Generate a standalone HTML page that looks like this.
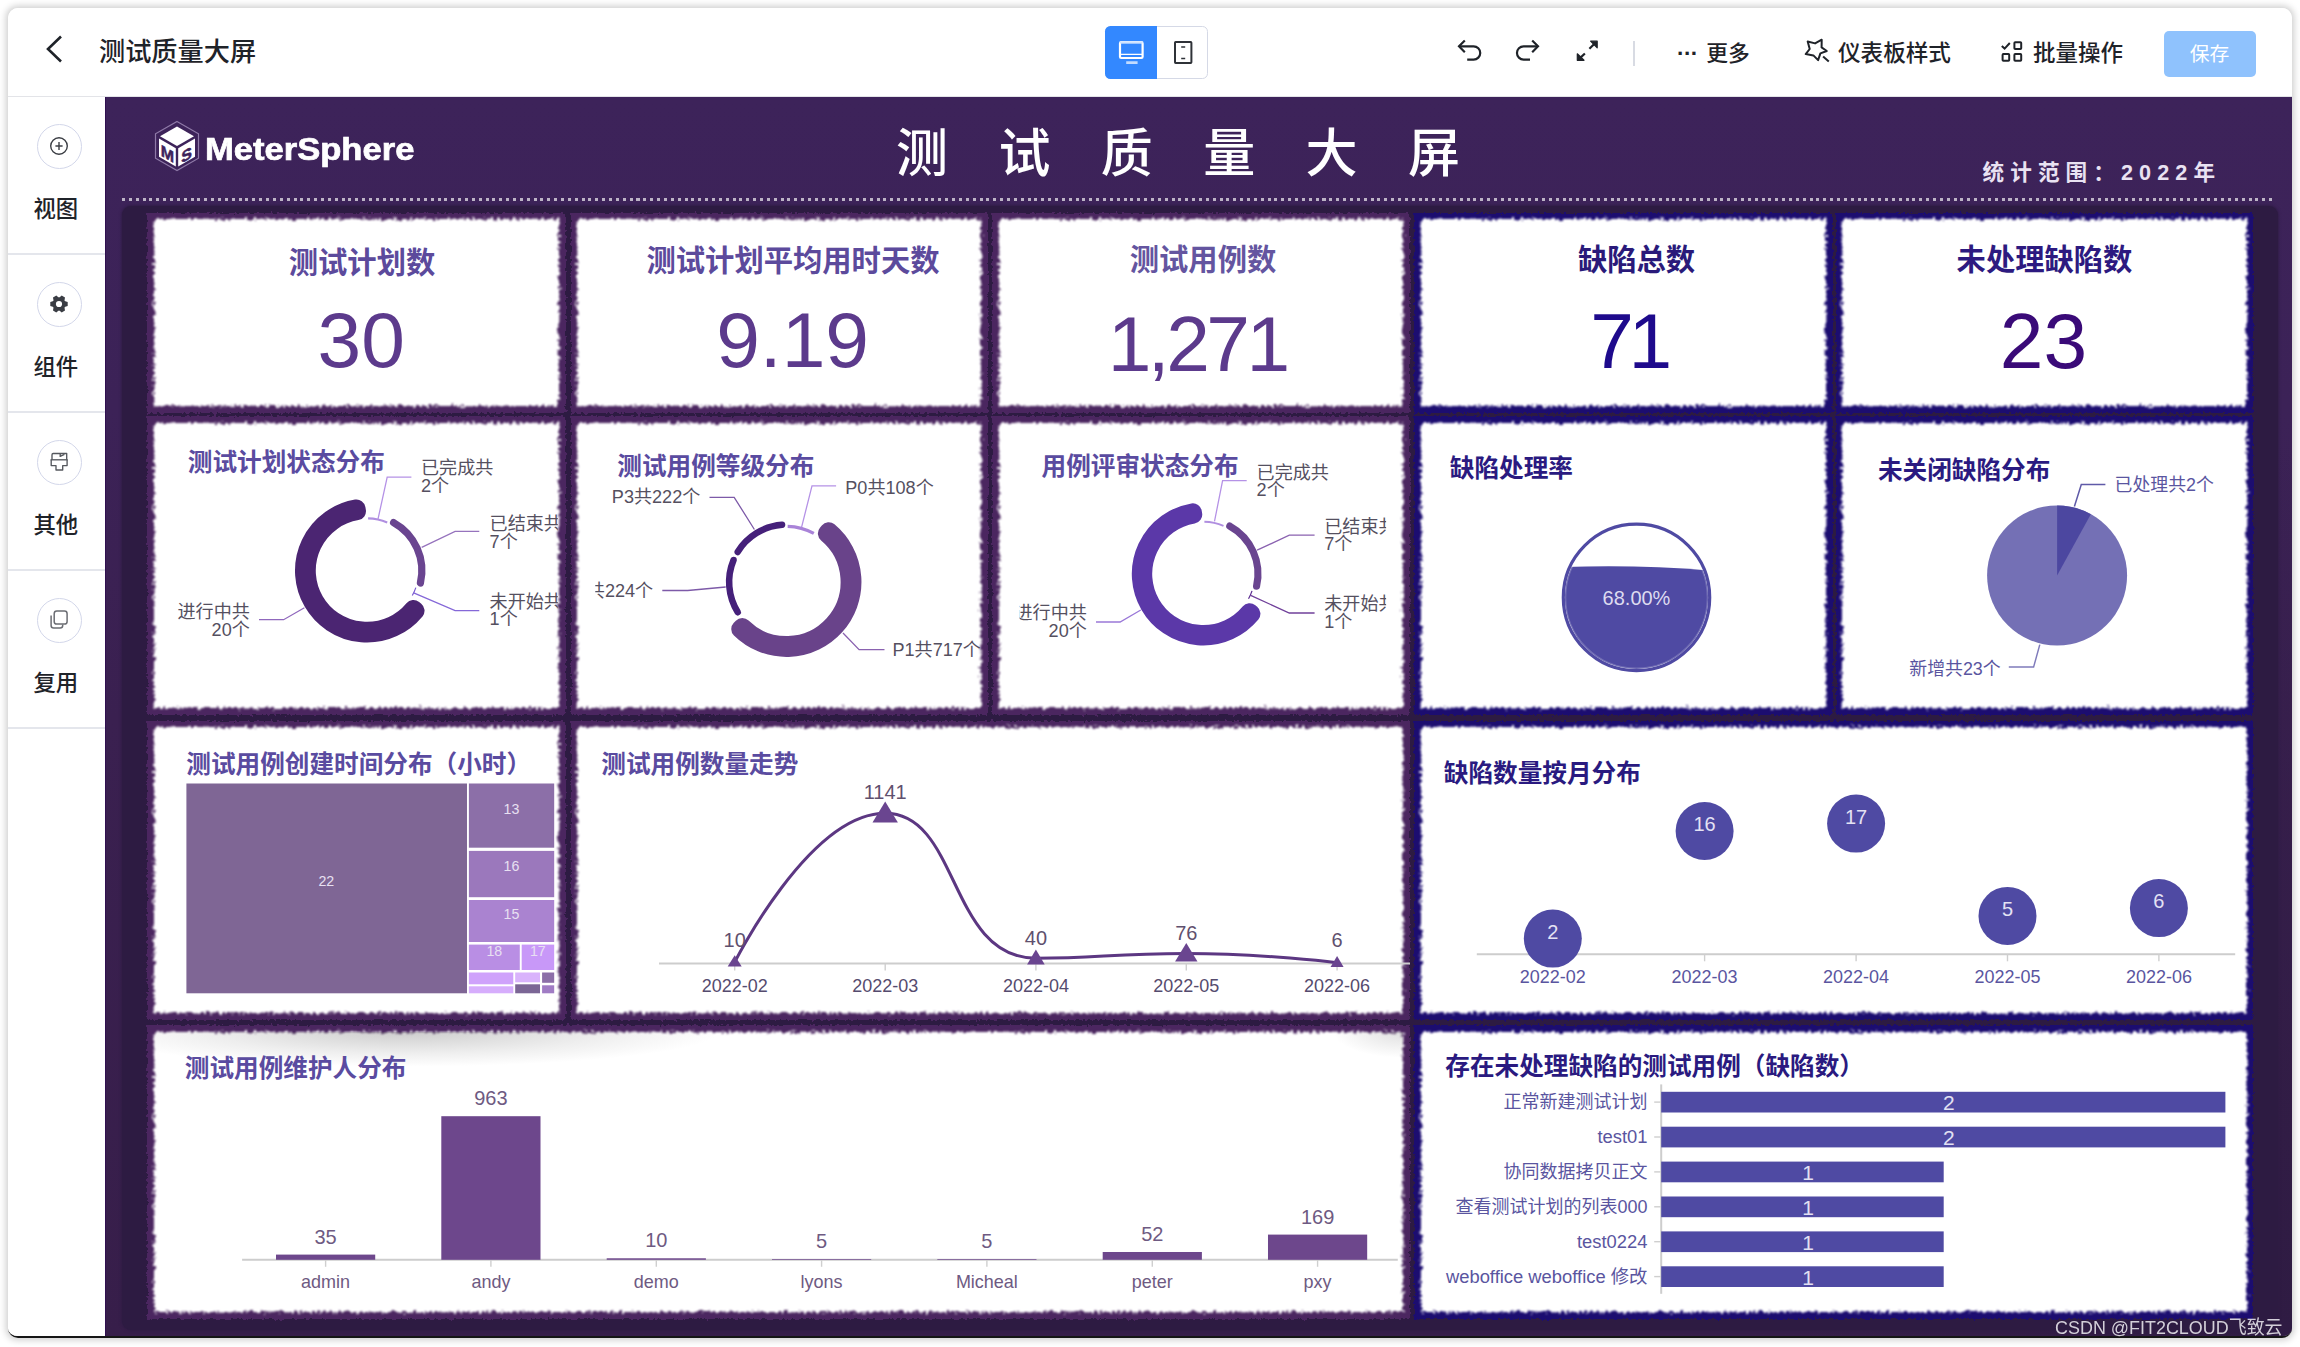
<!DOCTYPE html><html lang="zh-CN"><head><meta charset="utf-8"><title>测试质量大屏</title><style>
*{box-sizing:border-box;margin:0;padding:0}
html,body{width:2300px;height:1347px;overflow:hidden;background:#fff}
body{font-family:"Liberation Sans","Noto Sans CJK SC",sans-serif;position:relative;color:#1f2329}
.win{position:absolute;left:8px;top:8px;width:2284px;height:1330px;border-radius:10px;background:#fff;overflow:hidden;box-shadow:0 0 7px 1.5px rgba(0,0,0,.2);border-bottom:2px solid #161616}
.winline{position:absolute;left:14px;top:1336.5px;width:2272px;height:2px;background:#1d1d1d;border-radius:2px}
.abs{position:absolute}
.hdr{position:absolute;left:0;top:0;width:2284px;height:88.5px;border-bottom:1.5px solid #e3e4e8;background:#fff}
.side{position:absolute;left:0;top:89px;width:97px;height:1241px;background:#fff}
.side .circ{position:absolute;left:28.7px;width:45.2px;height:45.2px;border-radius:50%;border:1.3px solid #d3d7ea}
.side .lab{position:absolute;left:0;width:95.6px;text-align:center;font-size:22.4px;line-height:30px;color:#1f2329;font-weight:500}
.canvas{position:absolute;left:97px;top:89px;width:2187px;height:1241px;border-left:1.2px solid #300f50;background:radial-gradient(ellipse 500px 900px at 100% 100%,rgba(46,27,66,.9) 0,rgba(46,27,66,0) 100%),linear-gradient(180deg,#3d235a 0%,#3c2257 25%,#3a2050 50%,#371e4a 100%)}
.panel{position:absolute;left:122px;top:206px;width:2156px;height:1124px;border-radius:9px;background:#2d1b42;box-shadow:0 0 2.5px 1px rgba(46,27,68,.8)}
.dots{position:absolute;left:122px;top:197.8px;width:2154px;height:3.2px;background-image:repeating-linear-gradient(to right,rgba(255,255,255,.66) 0,rgba(255,255,255,.66) 3px,transparent 3px,transparent 6.86px)}
.card{position:absolute}
.frame{position:absolute;left:0;top:0;right:0;bottom:0;filter:url(#rough2)}
.paper{position:absolute;left:6.8px;top:6.8px;right:6.8px;bottom:6.8px;background:#fff;filter:url(#rough)}
.chart{position:absolute;left:0;top:0;overflow:hidden}
.ct{font-weight:700;font-family:"Liberation Sans","Noto Sans CJK SC",sans-serif}
.lb{font-family:"Liberation Sans","Noto Sans CJK SC",sans-serif}
.ax{font-family:"Liberation Sans",sans-serif}
.kt{position:absolute;text-align:center;font-weight:700;font-size:29.3px;line-height:40px;white-space:nowrap;transform:translateX(-50%)}
.kv{position:absolute;text-align:center;font-size:78.5px;line-height:80px;white-space:nowrap;transform:translateX(-50%);font-family:"Liberation Sans",sans-serif}
.innershadow{position:absolute;left:6.8px;top:6.8px;width:560px;height:34px;background:radial-gradient(ellipse at 45% 0,rgba(90,90,90,.3) 0,rgba(120,120,120,.12) 45%,rgba(255,255,255,0) 72%)}
.innershadow2{position:absolute;right:6.8px;top:6.8px;width:70px;height:26px;background:radial-gradient(ellipse at 100% 0,rgba(110,110,110,.22) 0,rgba(255,255,255,0) 70%)}
.wm{position:absolute;left:2055px;top:1313px;font-size:19.2px;transform-origin:0 50%;transform:scaleX(.935);line-height:30px;color:#d3cfd9;white-space:nowrap;font-family:"Liberation Sans","Noto Sans CJK SC",sans-serif}
</style></head><body>
<svg width="0" height="0" style="position:absolute"><defs><filter id="rough" x="-3%" y="-3%" width="106%" height="106%"><feTurbulence type="fractalNoise" baseFrequency="0.32" numOctaves="3" seed="7" result="n"/><feDisplacementMap in="SourceGraphic" in2="n" scale="8" xChannelSelector="R" yChannelSelector="G" result="d"/><feGaussianBlur in="d" stdDeviation="0.9"/></filter><filter id="rough2" x="-3%" y="-3%" width="106%" height="106%"><feTurbulence type="fractalNoise" baseFrequency="0.3" numOctaves="2" seed="11" result="n"/><feDisplacementMap in="SourceGraphic" in2="n" scale="5" xChannelSelector="R" yChannelSelector="G"/></filter></defs></svg>
<div class="win">
<div class="hdr"><svg class="abs" style="left:34px;top:25px" width="26" height="32" viewBox="0 0 26 32"><path d="M19 3.5L6 16L19 28.5" fill="none" stroke="#1f2329" stroke-width="2.6"/></svg><div class="abs" style="left:91px;top:25.5px;font-size:26.2px;line-height:36px;font-weight:500;color:#1f2329;white-space:nowrap">测试质量大屏</div><div class="abs" style="left:1096.8px;top:18.2px;width:103px;height:52.4px;border:1.3px solid #d5d9e6;border-radius:5.5px;background:#fff"></div><div class="abs" style="left:1096.8px;top:18.2px;width:52.4px;height:52.4px;border-radius:5.5px 0 0 5.5px;background:#3388ff"></div><svg class="abs" style="left:1109px;top:31px" width="28" height="26" viewBox="0 0 28 26"><rect x="3" y="3.2" width="22.6" height="15.8" rx="1.2" fill="none" stroke="#fff" stroke-width="2.2"/><path d="M3 3.4H25.6" stroke="#cfe3ff" stroke-width="2.4"/><path d="M3 15.4H25.6" stroke="#fff" stroke-width="1.4"/><path d="M9.2 23.7H20.6" stroke="#c2dbff" stroke-width="2.8"/></svg><svg class="abs" style="left:1164px;top:31px" width="22" height="26" viewBox="0 0 22 26"><rect x="3" y="3.1" width="16.4" height="20.8" rx=".6" fill="none" stroke="#2f3238" stroke-width="2"/><path d="M9.2 7.9H13.2M9.2 19.6H13.2" stroke="#2f3238" stroke-width="1.5"/></svg><svg class="abs" style="left:1432px;top:12px" width="180" height="64" viewBox="1440 20 180 64" fill="none" stroke="#1f2329" stroke-width="2.2"><path d="M1467.2 59.6H1473.6A6.65 6.65 0 0 0 1473.6 46.3H1459.8"/><path d="M1464.8 40.4L1459 46.3L1464.8 52.2"/><path d="M1530 59.6H1523.6A6.65 6.65 0 0 1 1523.6 46.3H1537.4"/><path d="M1532.2 40.4L1538 46.3L1532.2 52.2"/><path d="M1589.4 48.8L1595 43.3"/><path d="M1590.6 41.2H1597.2V47.8Z" fill="#1f2329" stroke-width="1.2" stroke-linejoin="round"/><path d="M1584.9 53.5L1579.4 58.6"/><path d="M1577.3 53.8V60.3H1584Z" fill="#1f2329" stroke-width="1.2" stroke-linejoin="round"/></svg><div class="abs" style="left:1625.3px;top:33px;width:1.4px;height:25px;background:#d8dbe3"></div><div class="abs" style="left:1669px;top:29.5px;font-size:22.5px;line-height:32px;font-weight:500;color:#1f2329;white-space:nowrap"><span style="letter-spacing:-.6px;font-weight:700">···</span><span style="margin-left:8.5px;font-size:21.8px">更多</span></div><svg class="abs" style="left:1792px;top:26px" width="34" height="32" viewBox="0 0 34 32" fill="none" stroke="#1f2329" stroke-width="2" stroke-linejoin="round"><path d="M7.7 7.5L15.1 9.4L21.7 5.7L21.6 13.4L26.8 17L20.4 19.4L18.1 26.1L13.4 21.4L5.7 20.1L9.7 15Z"/><path d="M23.1 22.4L28.8 27.4"/></svg><div class="abs" style="left:1830px;top:29.5px;font-size:22.6px;line-height:32px;font-weight:500;color:#1f2329;white-space:nowrap">仪表板样式</div><svg class="abs" style="left:1992px;top:31.7px" width="24" height="24" viewBox="0 0 24 24" fill="none" stroke="#1f2329" stroke-width="2"><rect x="14.4" y="2.2" width="6.8" height="6.8" rx=".8"/><rect x="2.6" y="14.1" width="6.6" height="6.6" rx=".8"/><rect x="14.4" y="14.1" width="6.8" height="6.6" rx=".8"/><path d="M1.8 6L4.6 8.6L9.8 3"/></svg><div class="abs" style="left:2025px;top:29.5px;font-size:22.5px;line-height:32px;font-weight:500;color:#1f2329;white-space:nowrap">批量操作</div><div class="abs" style="left:2155.5px;top:23px;width:92px;height:46px;border-radius:5px;background:#8fc2fd;color:#fff;font-size:19.8px;line-height:47px;text-align:center">保存</div></div>
<div class="side"><div class="circ" style="top:26.8px"></div><svg class="abs" style="left:21.3px;top:18.8px" width="60" height="60" viewBox="-30 -30 60 60"><circle r="8.3" fill="none" stroke="#3c3f45" stroke-width="1.4"/><path d="M0 -3.9V3.9M-3.6 0H3.6" stroke="#3c3f45" stroke-width="1.4"/></svg><div class="lab" style="top:97.5px">视图</div><div class="abs" style="left:0;top:156.3px;width:97px;height:1.4px;background:#e4e6ec"></div><div class="circ" style="top:184.8px"></div><svg class="abs" style="left:21.3px;top:176.8px" width="60" height="60" viewBox="-30 -30 60 60"><circle r="6.4" fill="#3a3d44"/><path d="M-3.1 -5.5L-1.9 -8.7H1.9L3.1 -5.5V5.5L1.9 8.7H-1.9L-3.1 5.5Z" fill="#3a3d44" transform="rotate(30)"/><path d="M-3.1 -5.5L-1.9 -8.7H1.9L3.1 -5.5V5.5L1.9 8.7H-1.9L-3.1 5.5Z" fill="#3a3d44" transform="rotate(90)"/><path d="M-3.1 -5.5L-1.9 -8.7H1.9L3.1 -5.5V5.5L1.9 8.7H-1.9L-3.1 5.5Z" fill="#3a3d44" transform="rotate(150)"/><circle r="3.1" fill="#fff"/></svg><div class="lab" style="top:255.5px">组件</div><div class="abs" style="left:0;top:314.3px;width:97px;height:1.4px;background:#e4e6ec"></div><div class="circ" style="top:342.8px"></div><svg class="abs" style="left:21.3px;top:334.8px" width="60" height="60" viewBox="-30 -30 60 60"><g fill="none" stroke="#55585e" stroke-width="1.35" stroke-linejoin="round"><path d="M-7 -2.2V-7.3A1.2 1.2 0 0 1 -5.8 -8.5H7.7V-2.2"/><path d="M1.2 -8.3V-5.6L5.4 -7.6"/><path d="M-8.4 -2.2H8.7"/><path d="M-7.8 -2.2V3.6H-3V8H3.7V3.6H8.1V-2.2"/></g></svg><div class="lab" style="top:413.5px">其他</div><div class="abs" style="left:0;top:472.3px;width:97px;height:1.4px;background:#e4e6ec"></div><div class="circ" style="top:500.8px"></div><svg class="abs" style="left:21.3px;top:492.8px" width="60" height="60" viewBox="-30 -30 60 60"><g fill="none" stroke="#6b6d73" stroke-width="1.5"><rect x="-4.8" y="-8.9" width="12.9" height="12.9" rx="2.6"/><path d="M-7.9 -4.4V5.5A2.5 2.5 0 0 0 -5.4 8H1.2A2.5 2.5 0 0 0 3.7 5.5V4.6"/></g></svg><div class="lab" style="top:571.5px">复用</div><div class="abs" style="left:0;top:630.3px;width:97px;height:1.4px;background:#e4e6ec"></div></div>
<div class="canvas"></div>
</div>
<div class="abs" style="left:0;top:0;width:2292px;height:1338px;overflow:hidden;border-radius:0 10px 10px 0">
<div class="panel"></div><div class="dots"></div>
<svg class="abs" style="left:152px;top:119px" width="50" height="54" viewBox="0 0 50 54"><path d="M25 2.5L46.5 14.8V39.2L25 51.5L3.5 39.2V14.8Z" fill="none" stroke="#8f7aa8" stroke-width="1.2"/><path d="M25 7.5L42 17.2L25 27L8 17.2Z" fill="#fff"/><path d="M7 19.5L23.8 29.2V47.5L7 37.8Z" fill="#fff"/><path d="M43 19.5L26.2 29.2V47.5L43 37.8Z" fill="#fff"/><text x="15.4" y="39.6" font-size="16" font-weight="700" fill="#3d235b" stroke="#3d235b" stroke-width=".5" text-anchor="middle" font-family="Liberation Sans,sans-serif" transform="skewY(30) translate(0,-8.2)">M</text><text x="34.6" y="39.6" font-size="16" font-weight="700" fill="#3d235b" stroke="#3d235b" stroke-width=".5" text-anchor="middle" font-family="Liberation Sans,sans-serif" transform="skewY(-30) translate(0,21.8)">S</text></svg><div class="abs" style="left:204.5px;top:129.5px;font-size:31px;line-height:40px;font-weight:700;color:#fff;white-space:nowrap;font-family:'Liberation Sans',sans-serif;transform:scaleX(1.115);transform-origin:0 50%;-webkit-text-stroke:.7px #fff">MeterSphere</div>
<div class="abs" style="left:896px;top:114px;font-size:52px;line-height:80px;letter-spacing:50.4px;color:#fff;font-weight:500;white-space:nowrap">测试质量大屏</div>
<div class="abs" style="left:1982.5px;top:157px;font-size:21.6px;line-height:32px;letter-spacing:6.1px;color:#e9e2f2;font-weight:700;white-space:nowrap">统计范围：2022年</div>
<div class="card " style="left:147.2px;top:212.7px;width:418.6px;height:200.1px"><div class="frame" style="background:#4c2860"></div><div class="paper"></div><div class="kt" style="left:214.8px;top:30.3px;color:#5c4a9c">测试计划数</div><div class="kv" style="left:214.0px;top:87.8px;color:#5c3a8c;letter-spacing:0px">30</div></div>
<div class="card " style="left:570.7px;top:212.7px;width:417.6px;height:200.1px"><div class="frame" style="background:#4c2860"></div><div class="paper"></div><div class="kt" style="left:222.3px;top:28.3px;color:#5c4a9c">测试计划平均用时天数</div><div class="kv" style="left:221.9px;top:87.1px;color:#5c3a8c;letter-spacing:0px">9.19</div></div>
<div class="card " style="left:991.9px;top:212.7px;width:418.4px;height:200.1px"><div class="frame" style="background:#4c2860"></div><div class="paper"></div><div class="kt" style="left:211.1px;top:27.3px;color:#6455a0">测试用例数</div><div class="kv" style="left:205.3px;top:91.6px;color:#5c3a8c;letter-spacing:-3.5px">1,271</div></div>
<div class="card " style="left:1414.2px;top:212.7px;width:418.6px;height:200.1px"><div class="frame" style="background:#1b1170"></div><div class="paper"></div><div class="kt" style="left:222.3px;top:27.3px;color:#2a1a7a">缺陷总数</div><div class="kv" style="left:214.3px;top:88.1px;color:#1e0a8c;letter-spacing:-5.5px">71</div></div>
<div class="card " style="left:1835.6px;top:212.7px;width:417.9px;height:200.1px"><div class="frame" style="background:#1b1170"></div><div class="paper"></div><div class="kt" style="left:208.9px;top:27.3px;color:#2d1a80">未处理缺陷数</div><div class="kv" style="left:207.9px;top:88.1px;color:#3a0a78;letter-spacing:0px">23</div></div>
<div class="card " style="left:147.2px;top:416.2px;width:418.6px;height:299.1px"><div class="frame" style="background:#4c2860"></div><div class="paper"></div><svg class="chart" width="418.6" height="299.1" viewBox="147.2 416.2 418.6 299.1"><clipPath id="cl1"><rect x="174" y="423" width="384" height="285.5"/></clipPath><g clip-path="url(#cl1)"><text x="188" y="462.7" class="ct" fill="#5a4ba0" font-size="24.65" dominant-baseline="central">测试计划状态分布</text><path d="M368.29 518.57A52.24 52.24 0 0 1 387.44 522.64" fill="none" stroke="#b08fe0" stroke-width="2.08" stroke-linecap="butt"/><path d="M393.79 522.82A54.85 54.85 0 0 1 420.64 583.15L420.62 583.14A54.83 54.83 0 0 0 393.78 522.84Z" fill="#6a4590" stroke="#6a4590" stroke-width="7.26" stroke-linejoin="round"/><path d="M416.04 587.81A51.72 51.72 0 0 1 412.52 595.72" fill="none" stroke="#7a5ad0" stroke-width="1.20" stroke-linecap="butt"/><path d="M415.76 610.93A63.00 63.00 0 1 1 356.72 508.68L357.19 511.44A60.20 60.20 0 1 0 413.60 609.15Z" fill="#4b2572" stroke="#4b2572" stroke-width="18.00" stroke-linejoin="round"/><polyline points="378.2,519.3 387.4,477.4 411.6,477.4" fill="none" stroke="#b592e6" stroke-width="1.3"/><polyline points="421.9,547.6 455.3,531.5 479.5,531.5" fill="none" stroke="#9673bd" stroke-width="1.3"/><polyline points="413.9,593.0 455.3,610.9 479.5,610.9" fill="none" stroke="#8568d8" stroke-width="1.3"/><polyline points="304.6,607.9 283.8,619.9 259.2,619.9" fill="none" stroke="#9068bd" stroke-width="1.3"/><text class="lb" x="421.2" y="468.7" text-anchor="start" fill="#55505f" font-size="18.1" dominant-baseline="central">已完成共</text><text class="lb" x="421.2" y="486.0" text-anchor="start" fill="#55505f" font-size="18.1" dominant-baseline="central">2个</text><text class="lb" x="489.8" y="524.6" text-anchor="start" fill="#55505f" font-size="18.1" dominant-baseline="central">已结束共</text><text class="lb" x="489.8" y="542.3" text-anchor="start" fill="#55505f" font-size="18.1" dominant-baseline="central">7个</text><text class="lb" x="489.8" y="602.2" text-anchor="start" fill="#55505f" font-size="18.1" dominant-baseline="central">未开始共</text><text class="lb" x="489.8" y="619.4" text-anchor="start" fill="#55505f" font-size="18.1" dominant-baseline="central">1个</text><text class="lb" x="250.0" y="612.5" text-anchor="end" fill="#55505f" font-size="18.1" dominant-baseline="central">进行中共</text><text class="lb" x="250.0" y="630.5" text-anchor="end" fill="#55505f" font-size="18.1" dominant-baseline="central">20个</text></g></svg></div>
<div class="card " style="left:570.7px;top:416.2px;width:417.6px;height:299.1px"><div class="frame" style="background:#4c2860"></div><div class="paper"></div><svg class="chart" width="417.6" height="299.1" viewBox="570.7 416.2 417.6 299.1"><clipPath id="cl2"><rect x="595" y="423" width="386.5" height="285.5"/></clipPath><g clip-path="url(#cl2)"><text x="617" y="467" class="ct" fill="#5a4ba0" font-size="24.65" dominant-baseline="central">测试用例等级分布</text><path d="M787.37 526.54A55.67 55.67 0 0 1 813.52 533.69" fill="none" stroke="#a983d8" stroke-width="3.15" stroke-linecap="butt"/><path d="M828.43 531.48A66.00 66.00 0 1 1 739.95 629.29L741.98 627.22A63.10 63.10 0 1 0 826.57 533.71Z" fill="#69438a" stroke="#69438a" stroke-width="18.00" stroke-linejoin="round"/><path d="M737.48 612.50A57.37 57.37 0 0 1 733.26 560.09L733.28 560.09A57.35 57.35 0 0 0 737.49 612.49Z" fill="#45207a" stroke="#45207a" stroke-width="6.51" stroke-linejoin="round"/><path d="M737.33 552.20A57.35 57.35 0 0 1 781.78 525.03L781.78 525.05A57.33 57.33 0 0 0 737.34 552.21Z" fill="#45207a" stroke="#45207a" stroke-width="6.45" stroke-linejoin="round"/><polyline points="801.3,527.4 811.7,486.0 835.8,486.0" fill="none" stroke="#b592e6" stroke-width="1.3"/><polyline points="754.1,529.7 733.9,497.5 709.2,497.5" fill="none" stroke="#7d5aa8" stroke-width="1.3"/><polyline points="725.4,587.2 687.4,590.7 662.0,590.7" fill="none" stroke="#7d5aa8" stroke-width="1.3"/><polyline points="842.7,633.2 858.8,649.8 884.2,649.8" fill="none" stroke="#8a62b0" stroke-width="1.3"/><text class="lb" x="845.0" y="487.8" text-anchor="start" fill="#55505f" font-size="18.1" dominant-baseline="central">P0共108个</text><text class="lb" x="700.0" y="497.5" text-anchor="end" fill="#55505f" font-size="18.1" dominant-baseline="central">P3共222个</text><text class="lb" x="652.9" y="591.0" text-anchor="end" fill="#55505f" font-size="18.1" dominant-baseline="central">P2共224个</text><text class="lb" x="892.2" y="650.5" text-anchor="start" fill="#55505f" font-size="18.1" dominant-baseline="central">P1共717个</text></g></svg></div>
<div class="card " style="left:991.9px;top:416.2px;width:418.4px;height:299.1px"><div class="frame" style="background:#4c2860"></div><div class="paper"></div><svg class="chart" width="418.4" height="299.1" viewBox="991.9 416.2 418.4 299.1"><clipPath id="cl3"><rect x="1019.5" y="423" width="366.5" height="285.5"/></clipPath><g clip-path="url(#cl3)"><text x="1041.5" y="466.7" class="ct" fill="#5a4ba0" font-size="24.65" dominant-baseline="central">用例评审状态分布</text><path d="M1204.29 521.99A52.12 52.12 0 0 1 1223.40 526.05" fill="none" stroke="#b08fe0" stroke-width="2.04" stroke-linecap="butt"/><path d="M1229.65 526.24A54.68 54.68 0 0 1 1256.46 586.46L1256.44 586.46A54.66 54.66 0 0 0 1229.64 526.26Z" fill="#6a4590" stroke="#6a4590" stroke-width="7.12" stroke-linejoin="round"/><path d="M1251.94 591.07A51.61 51.61 0 0 1 1248.43 598.96" fill="none" stroke="#5a2a90" stroke-width="1.20" stroke-linecap="butt"/><path d="M1251.35 613.95A62.50 62.50 0 1 1 1192.76 512.48L1193.16 514.84A60.10 60.10 0 1 0 1249.50 612.42Z" fill="#5b38a8" stroke="#5b38a8" stroke-width="18.00" stroke-linejoin="round"/><polyline points="1214.4,521.6 1222.5,480.9 1246.6,480.9" fill="none" stroke="#b592e6" stroke-width="1.3"/><polyline points="1257.0,550.4 1289.2,535.4 1314.5,535.4" fill="none" stroke="#8a62b0" stroke-width="1.3"/><polyline points="1250.0,595.3 1289.2,613.2 1314.5,613.2" fill="none" stroke="#70409a" stroke-width="1.3"/><polyline points="1140.7,610.2 1120.0,622.2 1095.9,622.2" fill="none" stroke="#9a78d8" stroke-width="1.3"/><text class="lb" x="1256.5" y="473.3" text-anchor="start" fill="#55505f" font-size="18.1" dominant-baseline="central">已完成共</text><text class="lb" x="1256.5" y="490.6" text-anchor="start" fill="#55505f" font-size="18.1" dominant-baseline="central">2个</text><text class="lb" x="1324.2" y="527.4" text-anchor="start" fill="#55505f" font-size="18.1" dominant-baseline="central">已结束共</text><text class="lb" x="1324.2" y="544.6" text-anchor="start" fill="#55505f" font-size="18.1" dominant-baseline="central">7个</text><text class="lb" x="1324.2" y="604.5" text-anchor="start" fill="#55505f" font-size="18.1" dominant-baseline="central">未开始共</text><text class="lb" x="1324.2" y="622.2" text-anchor="start" fill="#55505f" font-size="18.1" dominant-baseline="central">1个</text><text class="lb" x="1086.7" y="613.7" text-anchor="end" fill="#55505f" font-size="18.1" dominant-baseline="central">进行中共</text><text class="lb" x="1086.7" y="631.4" text-anchor="end" fill="#55505f" font-size="18.1" dominant-baseline="central">20个</text></g></svg></div>
<div class="card " style="left:1414.2px;top:416.2px;width:418.6px;height:299.1px"><div class="frame" style="background:#1b1170"></div><div class="paper"></div><svg class="chart" width="418.6" height="299.1" viewBox="1414.2 416.2 418.6 299.1"><text x="1450" y="469" class="ct" fill="#2a1a80" font-size="24.65" dominant-baseline="central">缺陷处理率</text><circle cx="1636.7" cy="597.6" r="73.2" fill="#fff" stroke="#4f4aa3" stroke-width="3.2"/><clipPath id="lq"><circle cx="1636.7" cy="597.6" r="71.6"/></clipPath><g clip-path="url(#lq)"><path fill="#4f4aa3" d="M1561.9 567.4 C1611.7666666666667 565.6,1661.6333333333334 566.6,1711.5 570.8 V672.4 H1561.9Z"/><circle cx="1636.7" cy="597.6" r="70.8" fill="none" stroke="#ffffff" stroke-opacity=".2" stroke-width="1.2"/></g><text class="lb" x="1636.7" y="598.7" text-anchor="middle" fill="#dddbf0" font-size="20" dominant-baseline="central">68.00%</text></svg></div>
<div class="card " style="left:1835.6px;top:416.2px;width:417.9px;height:299.1px"><div class="frame" style="background:#1b1170"></div><div class="paper"></div><svg class="chart" width="417.9" height="299.1" viewBox="1835.6 416.2 417.9 299.1"><text x="1877.5" y="471" class="ct" fill="#2a1a80" font-size="24.65" dominant-baseline="central">未关闭缺陷分布</text><circle cx="2056.7" cy="575.7" r="70" fill="#7470b5"/><path d="M2056.7 575.7L2056.7 505.70000000000005A70 70 0 0 1 2090.42 514.36Z" fill="#4c47a0"/><polyline points="2074.0,506.7 2080.9,484.8 2105.0,484.8" fill="none" stroke="#5f5aa8" stroke-width="1.5"/><polyline points="2039.4,644.8 2033.2,667.3 2008.4,667.3" fill="none" stroke="#7f7bbb" stroke-width="1.5"/><text class="lb" x="2114.2" y="484.8" text-anchor="start" fill="#5a55a0" font-size="17.9" dominant-baseline="central">已处理共2个</text><text class="lb" x="2000.3" y="668.9" text-anchor="end" fill="#5a55a0" font-size="17.9" dominant-baseline="central">新增共23个</text></svg></div>
<div class="card " style="left:147.2px;top:720.7px;width:418.6px;height:299.1px"><div class="frame" style="background:#4c2860"></div><div class="paper"></div><svg class="chart" width="418.6" height="299.1" viewBox="147.2 720.7 418.6 299.1"><text x="186.5" y="764" class="ct" fill="#5a4ba0" font-size="24.65" dominant-baseline="central">测试用例创建时间分布（小时）</text><rect x="186.6" y="783.2" width="280.6" height="209.8" fill="#7f6695"/><rect x="469.1" y="783.2" width="85.3" height="64.2" fill="#8c6fa8"/><rect x="469.1" y="850.6" width="85.3" height="46.3" fill="#9b78bc"/><rect x="469.1" y="899.7" width="85.3" height="42.0" fill="#aa83d0"/><rect x="469.1" y="944.3" width="50.9" height="25.4" fill="#b98ee4"/><rect x="521.9" y="944.3" width="32.5" height="25.4" fill="#c898f8"/><rect x="469.1" y="972.2" width="44.4" height="11.8" fill="#cfa2fb"/><rect x="469.1" y="986.0" width="44.4" height="7.0" fill="#d6adfc"/><rect x="515.4" y="972.2" width="24.8" height="9.8" fill="#d9b3fc"/><rect x="515.4" y="984.0" width="24.8" height="9.0" fill="#7b6695"/><rect x="542.3" y="972.2" width="12.1" height="10.3" fill="#8c6fa8"/><rect x="542.3" y="985.0" width="12.1" height="8.0" fill="#a07cc4"/><text class="lb" x="326.5" y="880.5" text-anchor="middle" fill="#e8e0f2" font-size="14.2" dominant-baseline="central">22</text><text class="lb" x="511.7" y="808.8" text-anchor="middle" fill="#e8e0f2" font-size="14.2" dominant-baseline="central">13</text><text class="lb" x="511.7" y="866.0" text-anchor="middle" fill="#e8e0f2" font-size="14.2" dominant-baseline="central">16</text><text class="lb" x="511.7" y="914.0" text-anchor="middle" fill="#e8e0f2" font-size="14.2" dominant-baseline="central">15</text><text class="lb" x="494.5" y="950.5" text-anchor="middle" fill="#e8e0f2" font-size="14.2" dominant-baseline="central">18</text><text class="lb" x="538.0" y="950.5" text-anchor="middle" fill="#e8e0f2" font-size="14.2" dominant-baseline="central">17</text></svg></div>
<div class="card " style="left:570.7px;top:720.7px;width:839.6px;height:299.1px"><div class="frame" style="background:#4c2860"></div><div class="paper"></div><svg class="chart" width="839.6" height="299.1" viewBox="570.7 720.7 839.6 299.1"><text x="601" y="764" class="ct" fill="#5a4ba0" font-size="24.65" dominant-baseline="central">测试用例数量走势</text><path d="M658.7 963.2H1412.6" stroke="#cdcdcd" stroke-width="2" fill="none"/><path d="M734.4 963.2V970.2" stroke="#cfcfcf" stroke-width="1.4"/><path d="M884.9 963.2V970.2" stroke="#cfcfcf" stroke-width="1.4"/><path d="M1035.6 963.2V970.2" stroke="#cfcfcf" stroke-width="1.4"/><path d="M1186 963.2V970.2" stroke="#cfcfcf" stroke-width="1.4"/><path d="M1336.8 963.2V970.2" stroke="#cfcfcf" stroke-width="1.4"/><path d="M734.4 961.9C734.4 961.9,809.1 813.0,884.9 813.0C959.7 813.0,948.1 957.9,1035.6 957.9C1098.6 957.9,1110.9 953.2,1186.0 953.2C1261.5 953.2,1336.8 962.4,1336.8 962.4" fill="none" stroke="#5c3782" stroke-width="3" stroke-linejoin="round"/><path d="M734.4 955.0L741.4 966.3L727.4 966.3Z" fill="#6a4590"/><path d="M884.9 801.3L897.6 822.3L872.2 822.3Z" fill="#6a4590"/><path d="M1035.6 949.3L1044.4 964.1L1026.8 964.1Z" fill="#6a4590"/><path d="M1186.0 942.7L1197.2 961.2L1174.8 961.2Z" fill="#6a4590"/><path d="M1336.8 955.7L1343.3 966.7L1330.3 966.7Z" fill="#6a4590"/><text class="ax" x="734.4" y="939.9" text-anchor="middle" fill="#5f506e" font-size="20" dominant-baseline="central">10</text><text class="ax" x="884.9" y="791.3" text-anchor="middle" fill="#5f506e" font-size="20" dominant-baseline="central">1141</text><text class="ax" x="1035.6" y="938.0" text-anchor="middle" fill="#5f506e" font-size="20" dominant-baseline="central">40</text><text class="ax" x="1186.0" y="933.2" text-anchor="middle" fill="#5f506e" font-size="20" dominant-baseline="central">76</text><text class="ax" x="1336.8" y="939.9" text-anchor="middle" fill="#5f506e" font-size="20" dominant-baseline="central">6</text><text class="ax" x="734.4" y="985.3" text-anchor="middle" fill="#554b6e" font-size="18" dominant-baseline="central">2022-02</text><text class="ax" x="884.9" y="985.3" text-anchor="middle" fill="#554b6e" font-size="18" dominant-baseline="central">2022-03</text><text class="ax" x="1035.6" y="985.3" text-anchor="middle" fill="#554b6e" font-size="18" dominant-baseline="central">2022-04</text><text class="ax" x="1186.0" y="985.3" text-anchor="middle" fill="#554b6e" font-size="18" dominant-baseline="central">2022-05</text><text class="ax" x="1336.8" y="985.3" text-anchor="middle" fill="#554b6e" font-size="18" dominant-baseline="central">2022-06</text></svg></div>
<div class="card " style="left:1414.2px;top:720.7px;width:839.3px;height:299.1px"><div class="frame" style="background:#1b1170"></div><div class="paper"></div><svg class="chart" width="839.3" height="299.1" viewBox="1414.2 720.7 839.3 299.1"><text x="1444" y="773" class="ct" fill="#2a1a80" font-size="24.65" dominant-baseline="central">缺陷数量按月分布</text><path d="M1477 954H2235.4" stroke="#cdcdcd" stroke-width="2" fill="none"/><path d="M1553 954V961" stroke="#cfcfcf" stroke-width="1.4"/><path d="M1704.8 954V961" stroke="#cfcfcf" stroke-width="1.4"/><path d="M1856.3 954V961" stroke="#cfcfcf" stroke-width="1.4"/><path d="M2007.7 954V961" stroke="#cfcfcf" stroke-width="1.4"/><path d="M2159.1 954V961" stroke="#cfcfcf" stroke-width="1.4"/><circle cx="1553" cy="938.3" r="29" fill="#4f4aa3"/><text class="ax" x="1553.0" y="931.3" text-anchor="middle" fill="#e4e2f4" font-size="20" dominant-baseline="central">2</text><circle cx="1704.8" cy="830.7" r="29" fill="#4f4aa3"/><text class="ax" x="1704.8" y="823.7" text-anchor="middle" fill="#e4e2f4" font-size="20" dominant-baseline="central">16</text><circle cx="1856.3" cy="823.3" r="29" fill="#4f4aa3"/><text class="ax" x="1856.3" y="816.3" text-anchor="middle" fill="#e4e2f4" font-size="20" dominant-baseline="central">17</text><circle cx="2007.7" cy="915.6" r="29" fill="#4f4aa3"/><text class="ax" x="2007.7" y="908.6" text-anchor="middle" fill="#e4e2f4" font-size="20" dominant-baseline="central">5</text><circle cx="2159.1" cy="907.8" r="29" fill="#4f4aa3"/><text class="ax" x="2159.1" y="900.8" text-anchor="middle" fill="#e4e2f4" font-size="20" dominant-baseline="central">6</text><text class="ax" x="1553.0" y="976.3" text-anchor="middle" fill="#5a55a0" font-size="18" dominant-baseline="central">2022-02</text><text class="ax" x="1704.8" y="976.3" text-anchor="middle" fill="#5a55a0" font-size="18" dominant-baseline="central">2022-03</text><text class="ax" x="1856.3" y="976.3" text-anchor="middle" fill="#5a55a0" font-size="18" dominant-baseline="central">2022-04</text><text class="ax" x="2007.7" y="976.3" text-anchor="middle" fill="#5a55a0" font-size="18" dominant-baseline="central">2022-05</text><text class="ax" x="2159.1" y="976.3" text-anchor="middle" fill="#5a55a0" font-size="18" dominant-baseline="central">2022-06</text></svg></div>
<div class="card " style="left:147.2px;top:1025.2px;width:1263.1px;height:293.6px"><div class="frame" style="background:#4c2860"></div><div class="paper"></div><div class="innershadow"></div><div class="innershadow2"></div><svg class="chart" width="1263.1" height="293.6" viewBox="147.2 1025.2 1263.1 293.6"><text x="185" y="1069" class="ct" fill="#5a4ba0" font-size="24.65" dominant-baseline="central">测试用例维护人分布</text><path d="M242.3 1260H1398" stroke="#cdcdcd" stroke-width="2" fill="none"/><path d="M325.8 1260V1267" stroke="#cfcfcf" stroke-width="1.4"/><rect x="276.2" y="1254.8" width="99.2" height="5.2" fill="#6d478c"/><text class="ax" x="325.8" y="1236.8" text-anchor="middle" fill="#6e5a82" font-size="20" dominant-baseline="central">35</text><text class="ax" x="325.8" y="1282.3" text-anchor="middle" fill="#6e5a82" font-size="18" dominant-baseline="central">admin</text><path d="M491.1 1260V1267" stroke="#cfcfcf" stroke-width="1.4"/><rect x="441.5" y="1116.4" width="99.2" height="143.6" fill="#6d478c"/><text class="ax" x="491.1" y="1098.4" text-anchor="middle" fill="#6e5a82" font-size="20" dominant-baseline="central">963</text><text class="ax" x="491.1" y="1282.3" text-anchor="middle" fill="#6e5a82" font-size="18" dominant-baseline="central">andy</text><path d="M656.5 1260V1267" stroke="#cfcfcf" stroke-width="1.4"/><rect x="606.9" y="1258.5" width="99.2" height="1.5" fill="#6d478c"/><text class="ax" x="656.5" y="1240.5" text-anchor="middle" fill="#6e5a82" font-size="20" dominant-baseline="central">10</text><text class="ax" x="656.5" y="1282.3" text-anchor="middle" fill="#6e5a82" font-size="18" dominant-baseline="central">demo</text><path d="M821.8 1260V1267" stroke="#cfcfcf" stroke-width="1.4"/><rect x="772.2" y="1259.3" width="99.2" height="0.7" fill="#6d478c"/><text class="ax" x="821.8" y="1241.3" text-anchor="middle" fill="#6e5a82" font-size="20" dominant-baseline="central">5</text><text class="ax" x="821.8" y="1282.3" text-anchor="middle" fill="#6e5a82" font-size="18" dominant-baseline="central">lyons</text><path d="M987.1 1260V1267" stroke="#cfcfcf" stroke-width="1.4"/><rect x="937.5" y="1259.3" width="99.2" height="0.7" fill="#6d478c"/><text class="ax" x="987.1" y="1241.3" text-anchor="middle" fill="#6e5a82" font-size="20" dominant-baseline="central">5</text><text class="ax" x="987.1" y="1282.3" text-anchor="middle" fill="#6e5a82" font-size="18" dominant-baseline="central">Micheal</text><path d="M1152.5 1260V1267" stroke="#cfcfcf" stroke-width="1.4"/><rect x="1102.9" y="1252.2" width="99.2" height="7.8" fill="#6d478c"/><text class="ax" x="1152.5" y="1234.2" text-anchor="middle" fill="#6e5a82" font-size="20" dominant-baseline="central">52</text><text class="ax" x="1152.5" y="1282.3" text-anchor="middle" fill="#6e5a82" font-size="18" dominant-baseline="central">peter</text><path d="M1317.8 1260V1267" stroke="#cfcfcf" stroke-width="1.4"/><rect x="1268.2" y="1234.8" width="99.2" height="25.2" fill="#6d478c"/><text class="ax" x="1317.8" y="1216.8" text-anchor="middle" fill="#6e5a82" font-size="20" dominant-baseline="central">169</text><text class="ax" x="1317.8" y="1282.3" text-anchor="middle" fill="#6e5a82" font-size="18" dominant-baseline="central">pxy</text></svg></div>
<div class="card " style="left:1414.2px;top:1025.2px;width:839.3px;height:293.6px"><div class="frame" style="background:#1b1170"></div><div class="paper"></div><svg class="chart" width="839.3" height="293.6" viewBox="1414.2 1025.2 839.3 293.6"><text x="1445.5" y="1067" class="ct" fill="#2a1a80" font-size="24.65" dominant-baseline="central">存在未处理缺陷的测试用例（缺陷数）</text><path d="M1661.4 1084.6V1294" stroke="#cdcdcd" stroke-width="2" fill="none"/><path d="M1654.4 1102.3H1661.4" stroke="#cfcfcf" stroke-width="1.4"/><rect x="1661.4" y="1092.0" width="564.2" height="20.7" fill="#4f4aa3"/><text class="ax" x="1949.0" y="1102.8" text-anchor="middle" fill="#e2e0f2" font-size="21" dominant-baseline="central">2</text><text class="lb" x="1647.7" y="1102.3" text-anchor="end" fill="#5a55a0" font-size="18" dominant-baseline="central">正常新建测试计划</text><path d="M1654.4 1137.2H1661.4" stroke="#cfcfcf" stroke-width="1.4"/><rect x="1661.4" y="1126.9" width="564.2" height="20.7" fill="#4f4aa3"/><text class="ax" x="1949.0" y="1137.8" text-anchor="middle" fill="#e2e0f2" font-size="21" dominant-baseline="central">2</text><text class="lb" x="1647.7" y="1137.2" text-anchor="end" fill="#5a55a0" font-size="18.4" dominant-baseline="central">test01</text><path d="M1654.4 1172.1H1661.4" stroke="#cfcfcf" stroke-width="1.4"/><rect x="1661.4" y="1161.8" width="282.5" height="20.7" fill="#4f4aa3"/><text class="ax" x="1808.2" y="1172.6" text-anchor="middle" fill="#e2e0f2" font-size="21" dominant-baseline="central">1</text><text class="lb" x="1647.7" y="1172.1" text-anchor="end" fill="#5a55a0" font-size="18" dominant-baseline="central">协同数据拷贝正文</text><path d="M1654.4 1207.0H1661.4" stroke="#cfcfcf" stroke-width="1.4"/><rect x="1661.4" y="1196.7" width="282.5" height="20.7" fill="#4f4aa3"/><text class="ax" x="1808.2" y="1207.5" text-anchor="middle" fill="#e2e0f2" font-size="21" dominant-baseline="central">1</text><text class="lb" x="1647.7" y="1207.0" text-anchor="end" fill="#5a55a0" font-size="18" dominant-baseline="central">查看测试计划的列表000</text><path d="M1654.4 1241.9H1661.4" stroke="#cfcfcf" stroke-width="1.4"/><rect x="1661.4" y="1231.6" width="282.5" height="20.7" fill="#4f4aa3"/><text class="ax" x="1808.2" y="1242.4" text-anchor="middle" fill="#e2e0f2" font-size="21" dominant-baseline="central">1</text><text class="lb" x="1647.7" y="1241.9" text-anchor="end" fill="#5a55a0" font-size="18.4" dominant-baseline="central">test0224</text><path d="M1654.4 1276.8H1661.4" stroke="#cfcfcf" stroke-width="1.4"/><rect x="1661.4" y="1266.5" width="282.5" height="20.7" fill="#4f4aa3"/><text class="ax" x="1808.2" y="1277.3" text-anchor="middle" fill="#e2e0f2" font-size="21" dominant-baseline="central">1</text><text class="lb" x="1647.7" y="1276.8" text-anchor="end" fill="#5a55a0" font-size="18.4" dominant-baseline="central">weboffice weboffice 修改</text></svg></div>
<div class="wm">CSDN @FIT2CLOUD飞致云</div>
</div>
</body></html>
